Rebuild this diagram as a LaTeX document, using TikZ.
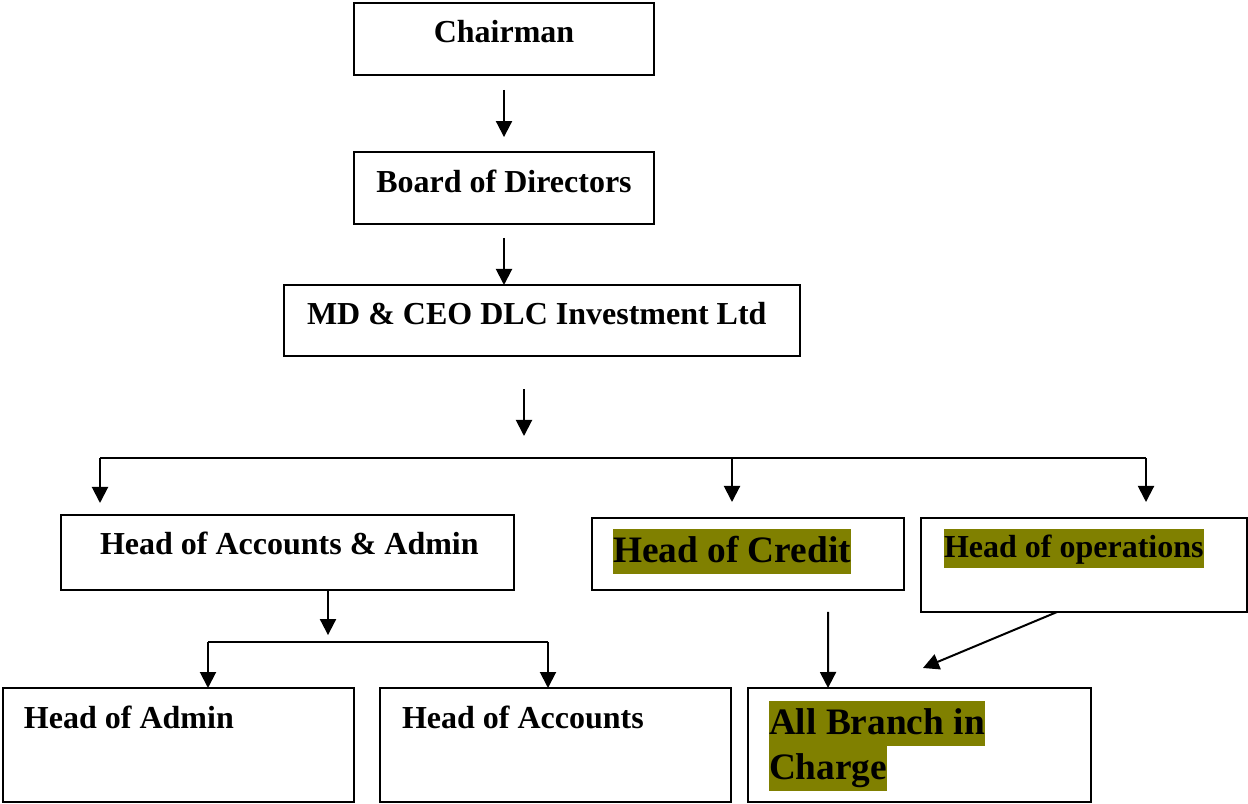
\documentclass[tikz,border=0pt]{standalone}
\usepackage{fontspec}
\setmainfont{Liberation Serif}
\usetikzlibrary{arrows.meta, fit}
\definecolor{hilite}{HTML}{808000}
\newcommand{\hlbox}[1]{{\setlength{\fboxsep}{0pt}\colorbox{hilite}{\rule[-0.3em]{0pt}{1.2em}#1}}}

\begin{document}
\begin{tikzpicture}[x=0.375pt, y=-0.375pt, line width=0.75pt,
  box/.style={draw, inner sep=0pt, outer sep=0pt},
  txt/.style={inner sep=0pt, font=\fontsize{12}{14.4}\selectfont\bfseries},
  big/.style={inner sep=0pt, font=\fontsize{14}{16.8}\selectfont\bfseries, align=left},
  arr/.style={-{Triangle[length=6pt, width=6pt]}}]
\useasboundingbox (0,0) rectangle (1248,804);
% boxes
\node[box, fit={(354,3) (654,75)}] (chair) {};
\node[box, fit={(354,152) (654,224)}] (board) {};
\node[box, fit={(284,285) (800,356)}] (md) {};
\node[box, fit={(61,515) (514,590)}] (acc) {};
\node[box, fit={(592,518) (904,590)}] (credit) {};
\node[box, fit={(921,518) (1247,612)}] (ops) {};
\node[box, fit={(3,688) (354,802)}] (hadm) {};
\node[box, fit={(380,688) (731,802)}] (hacc) {};
\node[box, fit={(748,688) (1091,802)}] (branch) {};
% texts
\node[txt, anchor=base] (chairTxt) at (504,43) {Chairman};
\node[txt, anchor=base] (boardTxt) at (504,193) {Board of Directors};
\node[txt, anchor=base west] (mdTxt) at (306,325) {MD \& CEO DLC Investment Ltd};
\node[txt, anchor=base west] (accTxt) at (99,555) {Head of Accounts \& Admin};
\node[big, anchor=base west] (creditTxt) at (612,563) {\hlbox{Head of Credit}};
\node[txt, anchor=base west] (opsTxt) at (943,558) {\hlbox{Head of operations}};
\node[txt, anchor=base west] (hadmTxt) at (23,728) {Head of Admin};
\node[txt, anchor=base west] (haccTxt) at (401,728) {Head of Accounts};
\node[big, anchor=north west] (branchTxt) at (768,700) {\hlbox{All Branch in}\\\hlbox{Charge}};
% bus lines
\coordinate (busL) at (100,458);
\coordinate (busM) at (524,458);
\coordinate (busC) at (732,458);
\coordinate (busR) at (1146,458);
\coordinate (subL) at (208,642);
\coordinate (subM) at (328,642);
\coordinate (subR) at (548,642);
\coordinate (brTip) at ([xshift=1.3pt, yshift=7.5pt]branch.north);
\draw (busL) -- (busR);
\draw (subL) -- (subR);
% arrows
\draw[arr, shorten <=5.6pt, shorten >=5.6pt] (chair) -- (board);
\draw[arr, shorten <=5.25pt] (board.south) -- (board.south |- md.north);
\draw[arr, shorten <=12.4pt, shorten >=8.25pt] (md.south -| busM) -- (busM);
\draw[arr, shorten >=4.5pt] (busL) -- (busL |- acc.north);
\draw[arr, shorten >=6pt] (busC) -- (busC |- credit.north);
\draw[arr, shorten >=6pt] (busR) -- (busR |- ops.north);
\draw[arr, shorten >=2.6pt] (acc.south -| subM) -- (subM);
\draw[arr] (subL) -- (subL |- hadm.north);
\draw[arr] (subR) -- (subR |- hacc.north);
\draw[arr, shorten <=8.25pt] ([xshift=30pt]credit.south) -- ([xshift=-34.3pt]branch.north);
\draw[arr] ([xshift=-10.1pt]ops.south) -- (brTip);
\end{tikzpicture}
\end{document}
